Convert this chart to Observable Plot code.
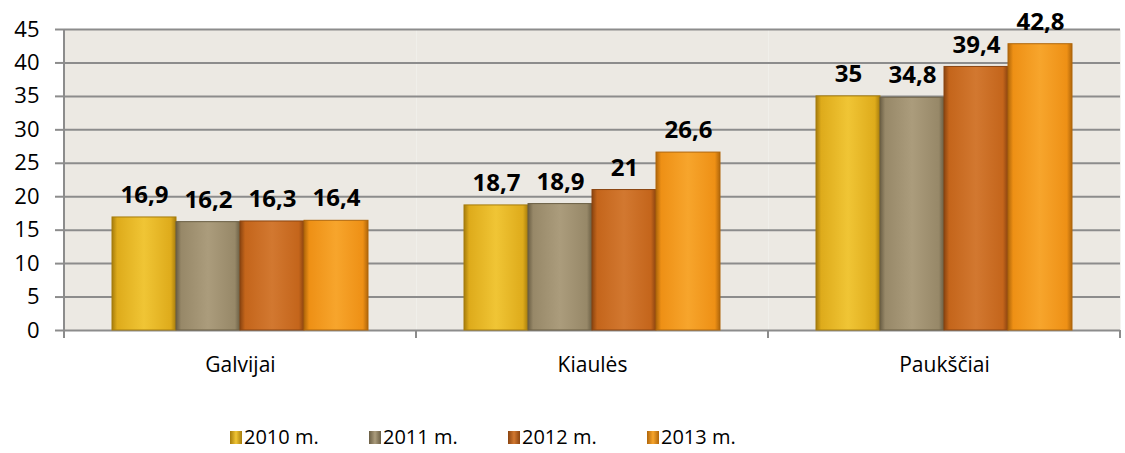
<!DOCTYPE html>
<html>
<head>
<meta charset="utf-8">
<script src="https://cdn.jsdelivr.net/npm/d3@7"></script>
<script src="https://cdn.jsdelivr.net/npm/@observablehq/plot@0.6"></script>
<style>
  body { margin: 0; background: #fff; font-family: "Open Sans", sans-serif; }
  #legend { display: flex; margin-top: 46px; margin-left: 230px; font-size: 20px; line-height: 22px; color: #000; }
  #legend .item { width: 139px; display: flex; align-items: center; white-space: nowrap; }
  #legend .sw { width: 12px; height: 13px; margin-right: 2px; }
</style>
</head>
<body>
<div id="chart"></div>
<div id="legend"></div>
<script>
const categories = ["Galvijai", "Kiaulės", "Paukščiai"];
const years = ["2010 m.", "2011 m.", "2012 m.", "2013 m."];
const values2010 = [16.9, 18.7, 35];
const values2011 = [16.2, 18.9, 34.8];
const values2012 = [16.3, 21, 39.4];
const values2013 = [16.4, 26.6, 42.8];
const yTicks = [0, 5, 10, 15, 20, 25, 30, 35, 40, 45];

const seriesValues = [values2010, values2011, values2012, values2013];
const colors = [
  {base: "#DEAB1B", light: "#F0C535", dark: "#A67C0C"},
  {base: "#978868", light: "#AB9C7C", dark: "#6A5E44"},
  {base: "#C4651B", light: "#D27830", dark: "#8A4410"},
  {base: "#EE9015", light: "#F7A52C", dark: "#B0660A"}
];

const data = [];
categories.forEach((c, i) => {
  years.forEach((y, j) => {
    data.push({category: c, year: y, idx: j, value: seriesValues[j][i]});
  });
});

const fmt = v => String(v).replace(".", ",");

const plot = Plot.plot({
  width: 1125,
  height: 380,
  marginLeft: 63,
  marginRight: 4,
  marginTop: 29,
  marginBottom: 50,
  style: {fontFamily: "'Open Sans', sans-serif", color: "#000", background: "#fff"},
  fx: {domain: categories, padding: 0, label: null, axis: null},
  x: {domain: years, paddingInner: 0, paddingOuter: 0.74, axis: null},
  y: {domain: [0, 45], label: null, axis: null},
  color: {type: "identity"},
  marks: [
    Plot.frame({fill: "#ECE9E3", stroke: "none"}),
    Plot.gridY(yTicks, {stroke: "#8C8C8C", strokeOpacity: 1, strokeWidth: 2}),
    Plot.barY(data, {
      fx: "category", x: "year", y: "value",
      fill: d => `url(#grad${d.idx})`,
      stroke: d => colors[d.idx].dark, strokeWidth: 1
    }),
    Plot.text(data, {
      fx: "category", x: "year", y: "value",
      text: d => fmt(d.value), dy: -22,
      fontSize: 24, fontWeight: "bold", fill: "#000"
    }),
    Plot.axisY(yTicks, {tickSize: 9, tickPadding: 16, fontSize: 22, stroke: "#8C8C8C", strokeWidth: 2, label: null}),
    Plot.axisFx({anchor: "bottom", tickSize: 0, tickPadding: 27, fontSize: 21, label: null})
  ]
});

document.getElementById("chart").appendChild(plot);

// gradients for bars
const svg = d3.select(plot);
const defs = svg.insert("defs", ":first-child");
colors.forEach((c, i) => {
  const g = defs.append("linearGradient").attr("id", `grad${i}`).attr("x1", "0").attr("x2", "1").attr("y1", "0").attr("y2", "0");
  g.append("stop").attr("offset", "0%").attr("stop-color", c.dark);
  g.append("stop").attr("offset", "8%").attr("stop-color", c.base);
  g.append("stop").attr("offset", "50%").attr("stop-color", c.light);
  g.append("stop").attr("offset", "92%").attr("stop-color", c.base);
  g.append("stop").attr("offset", "100%").attr("stop-color", c.dark);
});

// axis lines and category boundary ticks using Plot's scales
const fx = plot.scale("fx");
const y = plot.scale("y");
const y0 = y.apply(0), y45 = y.apply(45);
const bounds = categories.map(c => fx.apply(c));
bounds.push(fx.apply(categories[categories.length - 1]) + fx.bandwidth);
const g = svg.append("g").attr("stroke", "#8C8C8C").attr("stroke-width", 2);
g.append("line").attr("x1", bounds[0]).attr("x2", bounds[0]).attr("y1", y45).attr("y2", y0 + 8);
bounds.slice(1).forEach(b => {
  g.append("line").attr("x1", b).attr("x2", b).attr("y1", y0).attr("y2", y0 + 8);
});

// legend
const legend = d3.select("#legend");
years.forEach((yr, i) => {
  const it = legend.append("div").attr("class", "item");
  it.append("div").attr("class", "sw")
    .style("background", `linear-gradient(to right, ${colors[i].dark}, ${colors[i].light} 50%, ${colors[i].dark})`);
  it.append("span").text(yr);
});
</script>
</body>
</html>
